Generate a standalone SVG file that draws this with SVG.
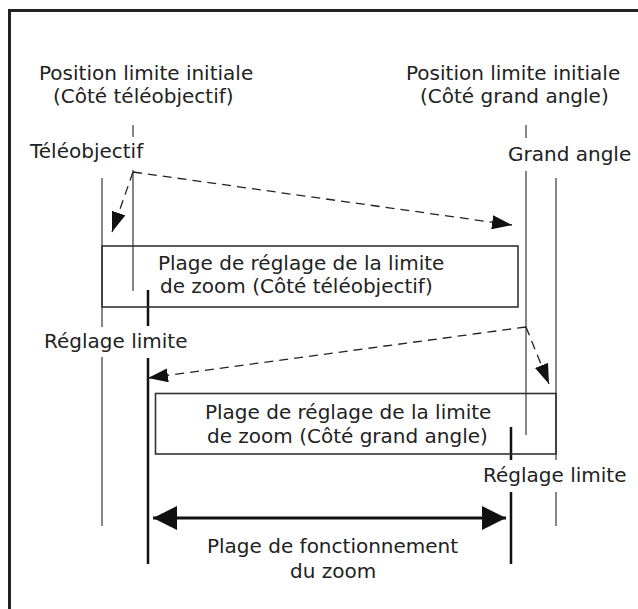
<svg xmlns="http://www.w3.org/2000/svg" width="638" height="609" viewBox="0 0 638 609">
<style>
text{font-family:"DejaVu Sans","Liberation Sans",sans-serif;font-size:20px;fill:#222}
.thin{stroke:#555;stroke-width:1.4;fill:none}
.thick{stroke:#111;stroke-width:2.5;fill:none}
.box{stroke:#333;stroke-width:1.6;fill:none}
.dash{stroke:#222;stroke-width:1.3;stroke-dasharray:9,6;fill:none}
.range{stroke:#111;stroke-width:3;fill:none}
</style>
<defs>
<marker id="ah" markerUnits="userSpaceOnUse" markerWidth="22" markerHeight="14" refX="20" refY="7" orient="auto">
<path d="M0,0 L20,7 L0,14 Z" fill="#111" stroke="none"/>
</marker>
<marker id="big" markerUnits="userSpaceOnUse" markerWidth="26" markerHeight="26" refX="24" refY="13" orient="auto-start-reverse">
<path d="M0,1 L24,13 L0,25 Z" fill="#111" stroke="none"/>
</marker>
</defs>
<rect width="638" height="609" fill="#fff"/>
<path d="M9.5,609 V10.5 H638" stroke="#222" stroke-width="3" fill="none"/>

<g id="guides">
<path class="thin" d="M102,178 V327 M102,357 V526"/>
<path class="thin" d="M133,125 V137 M133,170 V291"/>
<path class="thick" d="M148,290 V326 M148,358 V564"/>
<path class="thin" d="M526,125 V138 M526,171 V435"/>
<path class="thin" d="M556,178 V460 M556,492 V526"/>
<path class="thick" d="M511,427 V460 M511,492 V564"/>
</g>

<g id="label-tele-initial">
<text x="39" y="80">Position limite initiale</text>
<text x="53" y="103">(Côté téléobjectif)</text>
</g>
<g id="label-wide-initial">
<text x="406" y="80">Position limite initiale</text>
<text x="420" y="103">(Côté grand angle)</text>
</g>
<g id="label-tele"><text x="30" y="158">Téléobjectif</text></g>
<g id="label-wide"><text x="508" y="161">Grand angle</text></g>

<g id="box-tele">
<rect class="box" x="102" y="246" width="416" height="61"/>
<text x="158" y="270">Plage de réglage de la limite</text>
<text x="160" y="293">de zoom (Côté téléobjectif)</text>
</g>
<g id="label-reglage-left"><text x="44" y="348">Réglage limite</text></g>

<g id="box-wide">
<rect class="box" x="155.5" y="393.5" width="400.5" height="60.5"/>
<text x="205" y="419">Plage de réglage de la limite</text>
<text x="207" y="443">de zoom (Côté grand angle)</text>
</g>
<g id="label-reglage-right"><text x="483" y="482">Réglage limite</text></g>

<g id="label-range">
<text x="207" y="553">Plage de fonctionnement</text>
<text x="290" y="578">du zoom</text>
</g>

<g id="connectors">
<path class="dash" d="M133,172 L112,232" marker-end="url(#ah)"/>
<path class="dash" d="M133,172 L512,225" marker-end="url(#ah)"/>
<path class="dash" d="M526,327 L148,378" marker-end="url(#ah)"/>
<path class="dash" d="M526,327 L549,384" marker-end="url(#ah)"/>
<path class="range" d="M153,518 H506" marker-start="url(#big)" marker-end="url(#big)"/>
</g>
</svg>
